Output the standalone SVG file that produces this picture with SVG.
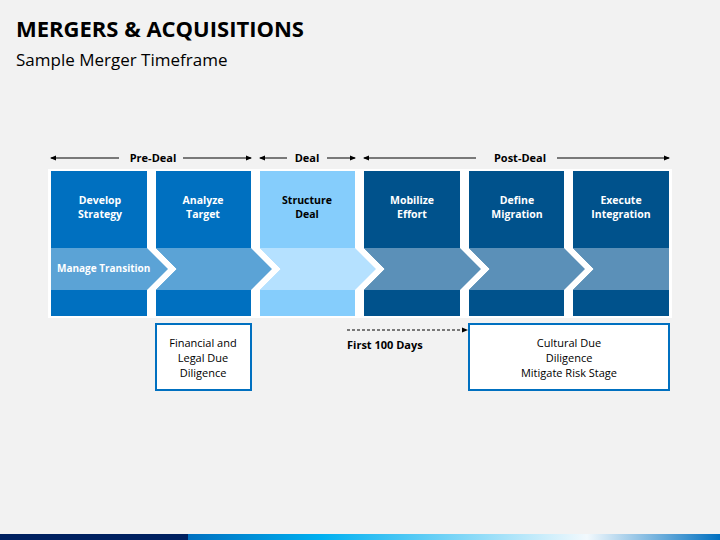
<svg xmlns="http://www.w3.org/2000/svg" width="720" height="540" viewBox="0 0 720 540">
<defs>
<style>
text{font-family:"Open Sans","Liberation Sans",sans-serif}
.h{font-size:11px;font-weight:bold;fill:#000;text-anchor:middle}
.t{font-size:10.5px;font-weight:bold;fill:#fff;text-anchor:middle}
.t2{font-size:10.5px;font-weight:bold;fill:#000;text-anchor:middle}
.s{font-size:11px;fill:#000;text-anchor:middle}
.ln{stroke:#000;stroke-width:1;fill:none}
</style>
<marker id="a" markerWidth="6" markerHeight="6" refX="5" refY="3" orient="auto-start-reverse" markerUnits="userSpaceOnUse"><path d="M0,0.5 L6,3 L0,5.5z" fill="#000"/></marker>
<linearGradient id="g" x1="0" x2="1"><stop offset="0" stop-color="#0070c0"/><stop offset="0.25" stop-color="#00b0f0"/><stop offset="0.75" stop-color="#f2f9fd"/><stop offset="1" stop-color="#0070c0"/></linearGradient>
</defs>
<rect width="720" height="540" fill="#f2f2f2"/>
<text x="16" y="37" style="font-size:22px;font-weight:bold;fill:#000">MERGERS &amp; ACQUISITIONS</text>
<text x="16" y="66" style="font-size:17px;fill:#000">Sample Merger Timeframe</text>
<g id="phases">
<line class="ln" x1="51" y1="158" x2="119" y2="158" marker-start="url(#a)"/><line class="ln" x1="183" y1="158" x2="251" y2="158" marker-end="url(#a)"/>
<text class="h" x="153" y="162">Pre-Deal</text>
<line class="ln" x1="260" y1="158" x2="287" y2="158" marker-start="url(#a)"/><line class="ln" x1="327" y1="158" x2="355" y2="158" marker-end="url(#a)"/>
<text class="h" x="307" y="162">Deal</text>
<line class="ln" x1="364" y1="158" x2="476" y2="158" marker-start="url(#a)"/><line class="ln" x1="557" y1="158" x2="669" y2="158" marker-end="url(#a)"/>
<text class="h" x="520" y="162">Post-Deal</text>
</g>
<rect x="48" y="169" width="624" height="149" fill="#fff"/>
<g id="c1"><rect x="51" y="171" width="96" height="145" fill="#0070c0"/><polygon points="51,248 147,248 168,269 147,290 51,290" fill="#5ba3d6"/><text class="t" x="100" y="204">Develop</text><text class="t" x="100" y="218">Strategy</text><text x="57" y="272" style="font-size:10px;font-weight:bold;fill:#fff">Manage Transition</text></g>
<g id="c2"><polygon points="156,171 251,171 251,316 156,316 156,290 177,269 156,248" fill="#0070c0"/><polygon points="156,248 251,248 272,269 251,290 156,290 177,269" fill="#5ba3d6"/><text class="t" x="203" y="204">Analyze</text><text class="t" x="203" y="218">Target</text></g>
<g id="c3"><polygon points="260,171 355,171 355,316 260,316 260,290 281,269 260,248" fill="#85cdfc"/><polygon points="260,248 355,248 376,269 355,290 260,290 281,269" fill="#b5e1ff"/><text class="t2" x="307" y="204">Structure</text><text class="t2" x="307" y="218">Deal</text></g>
<g id="c4"><polygon points="364,171 460,171 460,316 364,316 364,290 385,269 364,248" fill="#00528c"/><polygon points="364,248 460,248 481,269 460,290 364,290 385,269" fill="#5b90b8"/><text class="t" x="412" y="204">Mobilize</text><text class="t" x="412" y="218">Effort</text></g>
<g id="c5"><polygon points="469,171 564,171 564,316 469,316 469,290 490,269 469,248" fill="#00528c"/><polygon points="469,248 564,248 585,269 564,290 469,290 490,269" fill="#5b90b8"/><text class="t" x="517" y="204">Define</text><text class="t" x="517" y="218">Migration</text></g>
<g id="c6"><polygon points="573,171 669,171 669,316 573,316 573,290 594,269 573,248" fill="#00528c"/><polygon points="573,248 669,248 669,290 573,290 594,269" fill="#5b90b8"/><text class="t" x="621" y="204">Execute</text><text class="t" x="621" y="218">Integration</text></g>
<g id="b1"><rect x="156" y="324" width="95" height="66" fill="#fff" stroke="#0070c0" stroke-width="2"/><text class="s" x="203" y="347">Financial and</text><text class="s" x="203" y="362">Legal Due</text><text class="s" x="203" y="377">Diligence</text></g>
<g id="b2"><rect x="469" y="324" width="200" height="66" fill="#fff" stroke="#0070c0" stroke-width="2"/><text class="s" x="569" y="347">Cultural Due</text><text class="s" x="569" y="362">Diligence</text><text class="s" x="569" y="377">Mitigate Risk Stage</text></g>
<g id="connectors"><line class="ln" x1="347" y1="330" x2="467" y2="330" stroke-dasharray="3,2" marker-end="url(#a)"/></g>
<text x="347" y="349" style="font-size:11px;font-weight:bold;fill:#000">First 100 Days</text>
<rect x="0" y="534" width="188" height="6" fill="#002060"/>
<rect x="188" y="534" width="532" height="6" fill="url(#g)"/>
</svg>
